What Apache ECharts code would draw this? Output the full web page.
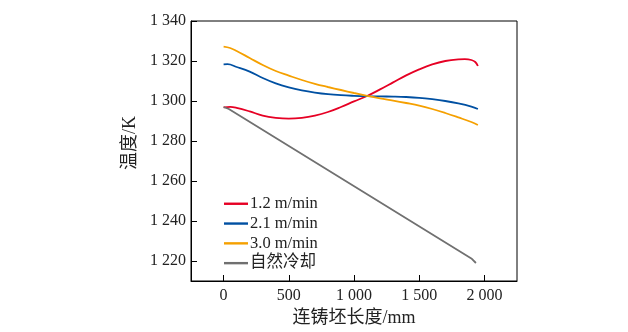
<!DOCTYPE html>
<html><head><meta charset="utf-8">
<script src="https://cdn.jsdelivr.net/npm/echarts@6/dist/echarts.min.js"></script>
<style>html,body{margin:0;padding:0;background:#fff}#c{width:628px;height:332px}</style>
</head><body><div id="c"></div>
<script>
var seriesNames = ['1.2 m/min', '2.1 m/min', '3.0 m/min', '自然冷却'];
var colors = ['#e60024', '#0050a2', '#f5a000', '#707070'];
var xTicks = [0, 500, 1000, 1500, 2000];
var yTicks = [1220, 1240, 1260, 1280, 1300, 1320, 1340];
var red = [[0,1296.8],[50,1297.1],[100,1296.6],[200,1294.8],[300,1292.7],[400,1291.6],[500,1291.2],[600,1291.6],[700,1292.7],[800,1294.5],[900,1297.0],[1000,1299.8],[1100,1302.5],[1200,1305.8],[1300,1309.3],[1400,1312.8],[1500,1315.8],[1600,1318.3],[1700,1320.0],[1800,1320.8],[1850,1320.9],[1900,1320.5],[1930,1319.5],[1950,1317.5]];
var blue = [[0,1318.3],[30,1318.4],[100,1317.0],[200,1314.7],[300,1311.5],[400,1308.8],[500,1306.8],[600,1305.3],[700,1304.2],[800,1303.4],[900,1302.9],[1000,1302.6],[1100,1302.4],[1200,1302.3],[1300,1302.2],[1400,1302.0],[1500,1301.6],[1600,1300.9],[1700,1300.0],[1800,1298.8],[1900,1297.2],[1950,1296.0]];
var orange = [[0,1327.2],[50,1326.5],[100,1325.0],[200,1321.5],[300,1318.0],[400,1315.0],[500,1312.7],[600,1310.5],[700,1308.6],[800,1307.0],[900,1305.5],[1000,1304.0],[1100,1302.6],[1200,1301.3],[1300,1300.2],[1400,1299.0],[1500,1297.7],[1600,1296.0],[1700,1294.0],[1800,1291.8],[1900,1289.5],[1950,1288.0]];
var gray = [[0,1297.0],[40,1296.0],[1900,1221.3],[1935,1219.0]];
var allData = [red, blue, orange, gray];

function fmt(v){
  v = Math.round(v);
  if (v >= 1000) { var r = String(v % 1000); while (r.length < 3) r = '0' + r; return Math.floor(v/1000) + ' ' + r; }
  return String(v);
}
var font = '"Liberation Serif","Times New Roman","Noto Sans CJK SC",serif';
var chart = echarts.init(document.getElementById('c'), null, {renderer:'canvas'});
chart.setOption({
  animation: false,
  grid: {left:191, top:21, right:111, bottom:51, show:true, borderColor:'#000', borderWidth:1, backgroundColor:'transparent'},
  legend: {
    orient:'vertical', left:219, top:190.5, icon:'rect', itemWidth:24, itemHeight:2.4, itemGap:3.3,
    textStyle:{fontFamily:font, fontSize:16.5, lineHeight:16, color:'#222', padding:[0,0,0,-3]},
    data: seriesNames
  },
  xAxis: {
    type:'value', min:-250, max:2250,
    name:'连铸坯长度/mm', nameLocation:'middle', nameGap:28,
    nameTextStyle:{fontFamily:font, fontSize:18, color:'#222'},
    axisLine:{show:true, onZero:false, lineStyle:{color:'#000', width:1}},
    axisTick:{show:true, inside:true, length:6, customValues:xTicks, lineStyle:{color:'#000'}},
    axisLabel:{customValues:xTicks, formatter:fmt, margin:7, fontFamily:font, fontSize:16, color:'#222'},
    splitLine:{show:false}
  },
  yAxis: {
    type:'value', min:1210, max:1340,
    name:'温度/K', nameLocation:'middle', nameGap:49,
    nameTextStyle:{fontFamily:font, fontSize:18, color:'#222', padding:[0,0,0,16]},
    axisLine:{show:true, onZero:false, lineStyle:{color:'#000', width:1}},
    axisTick:{show:true, inside:true, length:6, customValues:yTicks, lineStyle:{color:'#000'}},
    axisLabel:{customValues:yTicks, formatter:fmt, margin:5, fontFamily:font, fontSize:16, color:'#222'},
    splitLine:{show:false}
  },
  series: seriesNames.map(function(n,i){
    return {name:n, type:'line', data:allData[i], smooth: i<3 ? 0.4 : false, symbol:'none',
      lineStyle:{color:colors[i], width:1.8}, itemStyle:{color:colors[i]}};
  })
});
</script></body></html>
